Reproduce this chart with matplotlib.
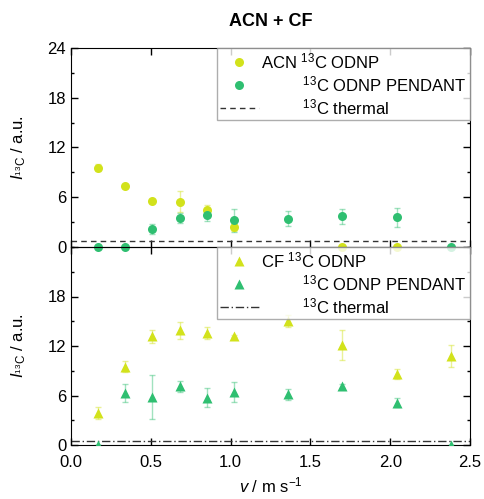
import numpy as np
import matplotlib
matplotlib.use("Agg")
from matplotlib import pyplot as plt
from matplotlib.ticker import MultipleLocator

plt.rcParams['font.family'] = ['Liberation Sans', 'DejaVu Sans']
plt.rcParams['mathtext.fontset'] = 'custom'
plt.rcParams['mathtext.rm'] = 'Liberation Sans'
plt.rcParams['mathtext.it'] = 'Liberation Sans:italic'

# flow velocity (m/s)
v = [0.17, 0.34, 0.51, 0.68, 0.85, 1.02, 1.36, 1.70, 2.04, 2.38]

# ACN panel (circles); NaN = no point
acn_odnp = [9.55, 7.3, 5.6, 5.45, 4.5, 2.45, np.nan, 0.0, 0.0, np.nan]
acn_odnp_err = [0.4, 0.2, 0.2, 1.25, 0.55, 0.55, 0, 0, 0, 0]
acn_pend = [0.0, 0.0, 2.2, 3.5, 3.8, 3.2, 3.4, 3.7, 3.6, 0.0]
acn_pend_err = [0, 0, 0.6, 0.55, 0.65, 1.35, 0.9, 0.9, 1.15, 0]
acn_thermal = 0.78

# CF panel (triangles)
cf_odnp = [3.9, 9.5, 13.2, 13.9, 13.6, 13.2, 15.0, 12.1, 8.6, 10.8]
cf_odnp_err = [0.7, 0.7, 0.8, 1.05, 0.75, 0.15, 0.75, 1.85, 0.6, 1.35]
cf_pend = [0.0, 6.3, 5.85, 7.1, 5.75, 6.45, 6.15, 7.15, 5.15, 0.0]
cf_pend_err = [0, 1.05, 2.65, 0.7, 1.2, 1.2, 0.65, 0.2, 0.55, 0]
cf_thermal = 0.45

YELLOW = '#d2e21b'
GREEN = '#2fbf71'
GREY = '#333333'

fig = plt.figure(figsize=(4.84, 4.99), dpi=100)
L, R = 71 / 484, 470 / 484
ax1 = fig.add_axes([L, 1 - 247 / 499, R - L, 199 / 499])
ax2 = fig.add_axes([L, 1 - 445 / 499, R - L, 198 / 499])
ax2.set_facecolor('none')


def draw(ax, y1, e1, y2, e2, thermal, marker, ls, lab1, clip):
    for y, e, c in [(y1, e1, YELLOW), (y2, e2, GREEN)]:
        ax.errorbar(v, y, yerr=e, fmt='none', ecolor=c, alpha=0.45,
                    elinewidth=1, capsize=2.5, capthick=1, clip_on=clip)
    h1, = ax.plot(v, y1, ls='none', marker=marker, ms=6.5, color=YELLOW,
                  mec='none', clip_on=clip, zorder=3)
    h2, = ax.plot(v, y2, ls='none', marker=marker, ms=6.5, color=GREEN,
                  mec='none', clip_on=clip, zorder=3)
    h3 = ax.axhline(thermal, color=GREY, lw=1, ls=ls)
    leg = ax.legend([h1, h2, h3],
                    [lab1,
                     '         $^{13}$C ODNP PENDANT',
                     '         $^{13}$C thermal'],
                    loc='upper right', fontsize=12, frameon=True, fancybox=False,
                    borderaxespad=0, borderpad=0.2, handlelength=2.3,
                    handletextpad=0.16, labelspacing=0.18)
    leg.get_frame().set_edgecolor('#999999')
    leg.get_frame().set_linewidth(1)
    leg.set_zorder(10)
    ax.set_xlim(0, 2.5)
    ax.set_ylim(0, 24)
    ax.xaxis.set_major_locator(MultipleLocator(0.5))
    ax.yaxis.set_major_locator(MultipleLocator(6))
    ax.yaxis.set_minor_locator(MultipleLocator(3))
    ax.tick_params(which='both', direction='in', top=True, right=True,
                   labelsize=12)
    ax.tick_params(which='major', length=5, width=1)
    ax.tick_params(which='minor', length=2.5, width=1)
    ax.tick_params(axis='x', which='minor', bottom=False, top=False)
    ax.tick_params(axis='x', pad=7)
    ax.set_ylabel(r'$I_{^{13}\mathrm{C}}$ / a.u.', fontsize=12, labelpad=14)


draw(ax1, acn_odnp, acn_odnp_err, acn_pend, acn_pend_err, acn_thermal,
     'o', (0, (4, 3)), 'ACN $^{13}$C ODNP', False)
draw(ax2, cf_odnp, cf_odnp_err, cf_pend, cf_pend_err, cf_thermal,
     '^', (0, (6, 2, 1, 2)), 'CF $^{13}$C ODNP', True)

ax1.tick_params(labelbottom=False)
ax2.set_yticks([0, 6, 12, 18])
ax2.set_xlabel(r'$v$ / m s$^{-1}$', fontsize=12, labelpad=4)

fig.text((L + R) / 2, 1 - 21 / 499, 'ACN + CF', ha='center', va='center',
         fontsize=13, fontweight='bold')

fig.savefig('out.png', dpi=100)
